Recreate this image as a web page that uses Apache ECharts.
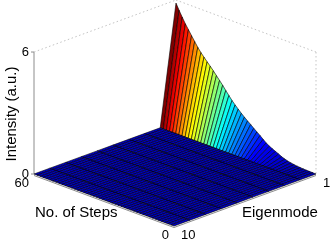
<!DOCTYPE html>
<html>
<head>
<meta charset="utf-8">
<style>html,body{margin:0;padding:0;background:#fff}#c{width:332px;height:242px}</style>
<script src="https://cdn.jsdelivr.net/npm/echarts@6/dist/echarts.min.js"></script>
</head>
<body>
<div id="c"></div>
<script>
var steps = [0,1.33,2.67,4,5.33,6.67,8,9.33,10.67,12,13.33,14.67,16,17.33,18.67,20,21.33,22.67,24,25.33,26.67,28,29.33,30.67,32,33.33,34.67,36,37.33,38.67,40,41.33,42.67,44,45.33,46.67,48,49.33,50.67,52,53.33,54.67,56,57.33,58.67,60];
var modes = [1,2,3,4,5,6,7,8,9,10];
var mode1Intensity = [0,0.003,0.007,0.01,0.017,0.027,0.04,0.06,0.085,0.12,0.165,0.22,0.3,0.37,0.44,0.52,0.62,0.74,0.87,0.99,1.11,1.24,1.36,1.49,1.62,1.77,1.92,2.08,2.27,2.46,2.66,2.84,3.02,3.2,3.37,3.53,3.7,3.87,4.07,4.3,4.53,4.77,5.0,5.27,5.55,5.85];
var higherModeIntensity = [0,0,0,0,0,0,0,0,0];
var intensityTicks = [0,6];
var stepTickLabels = [[0,'0'],[60,'60']];
var modeTickLabels = [[1,'1'],[10,'10']];

function project(step, mode, z) {
  return [
    174 - step / 60 * 140 + (10 - mode) / 9 * 142,
    226 - step / 60 * 52 - (10 - mode) / 9 * 52 - z * 20.33
  ];
}
function valueAt(i, j) {
  return j === 0 ? mode1Intensity[i] : higherModeIntensity[j - 1];
}
var zMax = Math.max.apply(null, mode1Intensity);
var jetStops = [[0,0,0,190],[0.125,0,0,255],[0.375,0,255,255],[0.625,255,255,0],[0.875,255,0,0],[1,128,0,0]];
function jet(t) {
  for (var k = 1; k < jetStops.length; k++) {
    if (t <= jetStops[k][0]) {
      var a = jetStops[k - 1], b = jetStops[k], f = (t - a[0]) / (b[0] - a[0]);
      return 'rgb(' + [1,2,3].map(function (c) { return Math.round(a[c] + (b[c] - a[c]) * f); }).join(',') + ')';
    }
  }
  return 'rgb(128,0,0)';
}
var cells = [];
for (var i = steps.length - 2; i >= 0; i--) {
  for (var j = 0; j < modes.length - 1; j++) {
    cells.push([i, j]);
  }
}
function renderCell(params, api) {
  var i = api.value(0), j = api.value(1);
  var corners = [[i, j], [i + 1, j], [i + 1, j + 1], [i, j + 1]].map(function (c) {
    return api.coord(project(steps[c[0]], modes[c[1]], valueAt(c[0], c[1])));
  });
  var top = Math.max(valueAt(i, j), valueAt(i + 1, j), valueAt(i, j + 1), valueAt(i + 1, j + 1));
  return {
    type: 'polygon',
    shape: { points: corners },
    style: { fill: jet(top / zMax), stroke: '#000', lineWidth: 0.6 }
  };
}
function lineItem(api, a, b, stroke, dash, off) {
  var p = api.coord(a), q = api.coord(b);
  return {
    type: 'line',
    shape: { x1: p[0], y1: p[1] + (off || 0), x2: q[0], y2: q[1] + (off || 0) },
    style: { stroke: stroke, lineWidth: 1, lineDash: dash || null }
  };
}
function renderFrame(params, api) {
  var grey = '#8c8c8c', dotted = '#c4c4c4', dots = [1.5, 2.5];
  var zTop = intensityTicks[1], tick = [];
  intensityTicks.forEach(function (v) {
    var p = api.coord(project(60, 10, v));
    tick.push({ type: 'line', shape: { x1: p[0] - 3, y1: p[1], x2: p[0], y2: p[1] }, style: { stroke: grey, lineWidth: 1 } });
    tick.push({ type: 'text', style: { text: String(v), x: p[0] - 5, y: p[1], align: 'right', verticalAlign: 'middle', fontFamily: 'Liberation Sans', fontSize: 13, fill: '#000' } });
  });
  stepTickLabels.forEach(function (t) {
    var p = api.coord(project(t[0], 10, 0));
    tick.push({ type: 'text', style: { text: t[1], x: p[0] - 5, y: p[1] + 9, align: 'right', verticalAlign: 'middle', fontFamily: 'Liberation Sans', fontSize: 13, fill: '#000' } });
  });
  modeTickLabels.forEach(function (t) {
    var p = api.coord(project(0, t[0], 0));
    tick.push({ type: 'text', style: { text: t[1], x: p[0] + 7, y: p[1] + 9, align: 'left', verticalAlign: 'middle', fontFamily: 'Liberation Sans', fontSize: 13, fill: '#000' } });
  });
  return {
    type: 'group',
    children: [
      lineItem(api, project(60, 10, 0), project(60, 10, zTop), grey),
      lineItem(api, project(60, 10, zTop), project(60, 1, zTop), dotted, dots),
      lineItem(api, project(60, 1, zTop), project(0, 1, zTop), dotted, dots),
      lineItem(api, project(0, 1, zTop), project(0, 1, 0), dotted, dots),
      lineItem(api, project(60, 10, 0), project(0, 10, 0), grey, null, 1.5),
      lineItem(api, project(0, 10, 0), project(0, 1, 0), grey, null, 1.5)
    ].concat(tick)
  };
}
var chart = echarts.init(document.getElementById('c'), null, { renderer: 'canvas' });
chart.setOption({
  animation: false,
  backgroundColor: '#fff',
  grid: { left: 0, right: 0, top: 0, bottom: 0 },
  xAxis: { type: 'value', min: 0, max: 332, show: false },
  yAxis: { type: 'value', min: 0, max: 242, inverse: true, show: false },
  series: [
    { type: 'custom', coordinateSystem: 'cartesian2d', clip: false, silent: true, renderItem: renderFrame, data: [[0, 0]], z: 1 },
    { type: 'custom', coordinateSystem: 'cartesian2d', clip: false, silent: true, renderItem: renderCell, data: cells, z: 2 }
  ],
  graphic: [
    { type: 'text', left: 35, top: 205, style: { text: 'No. of Steps', fontFamily: 'Liberation Sans', fontSize: 15, fill: '#000' } },
    { type: 'text', left: 242, top: 205, style: { text: 'Eigenmode', fontFamily: 'Liberation Sans', fontSize: 15, fill: '#000' } },
    { type: 'text', x: 12, y: 114, rotation: Math.PI / 2, style: { text: 'Intensity (a.u.)', align: 'center', verticalAlign: 'middle', fontFamily: 'Liberation Sans', fontSize: 15, fill: '#000' } }
  ]
});
</script>
</body>
</html>
